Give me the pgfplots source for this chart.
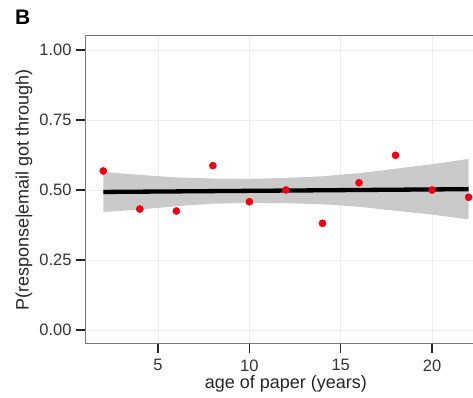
\documentclass[border=0pt]{standalone}
\usepackage{pgfplots}
\pgfplotsset{compat=1.18}
\usepackage{fontspec}
\setmainfont{Liberation Sans}
\definecolor{bandcol}{RGB}{202,202,202}
\definecolor{gridcol}{RGB}{236,236,236}
\definecolor{framecol}{RGB}{120,120,120}
\definecolor{ptcol}{RGB}{235,0,20}
\begin{document}
\begin{tikzpicture}
\begin{axis}[
  scale only axis,
  width=390pt, height=308pt,
  xmin=1, xmax=22.35,
  ymin=-0.05, ymax=1.05,
  axis lines=box,
  axis line style={framecol, line width=1pt},
  xtick={5,10,15,20},
  ytick={0,0.25,0.5,0.75,1},
  yticklabels={0.00,0.25,0.50,0.75,1.00},
  xtick pos=bottom,
  ytick pos=left,
  tick align=outside,
  major tick length=9pt,
  tick style={black!85, line width=1.3pt},
  grid=major,
  major grid style={gridcol, line width=0.8pt},
  /pgf/number format/assume math mode=true,
  ticklabel style={font=\fontsize{16.5}{18}\selectfont, text=black!80},
  xticklabel style={yshift=-3pt},
  yticklabel style={xshift=-1pt},
  xlabel={age of paper (years)},
  ylabel={P(response|email got through)},
  label style={font=\fontsize{18}{20}\selectfont, text=black!85},
  xlabel style={at={(axis cs:12,-0.05)}, anchor=north, yshift=-28pt},
  ylabel style={yshift=0pt},
  clip=false,
]
\coordinate (tl) at (rel axis cs:0,1);
\addplot[fill=bandcol, draw=none] coordinates {
  (2,0.565) (4,0.554) (6,0.545) (8,0.541) (10,0.540) (12,0.543) (14,0.549)
  (16,0.560) (18,0.576) (20,0.592) (22,0.611)
  (22,0.395) (20,0.412) (18,0.426) (16,0.440) (14,0.449) (12,0.453)
  (10,0.454) (8,0.451) (6,0.442) (4,0.430) (2,0.421)
} -- cycle;
\addplot[black, line width=4.3pt] coordinates {(2,0.493) (22,0.503)};
\addplot[only marks, mark=*, mark size=3.6pt, color=ptcol, mark options={fill=ptcol, draw=ptcol}] coordinates {
  (2,0.568) (4,0.432) (6,0.425) (8,0.587) (10,0.458) (12,0.500)
  (14,0.381) (16,0.526) (18,0.624) (20,0.500) (22,0.474)
};
\end{axis}
\node[anchor=north west, inner sep=0pt, font=\fontsize{21}{22}\selectfont\bfseries] at ([xshift=-70pt,yshift=26pt]tl) {B};
\pgfresetboundingbox
\path[use as bounding box] ([xshift=-85pt,yshift=36pt]tl) rectangle ++(473pt,-398pt);
\end{tikzpicture}
\end{document}
